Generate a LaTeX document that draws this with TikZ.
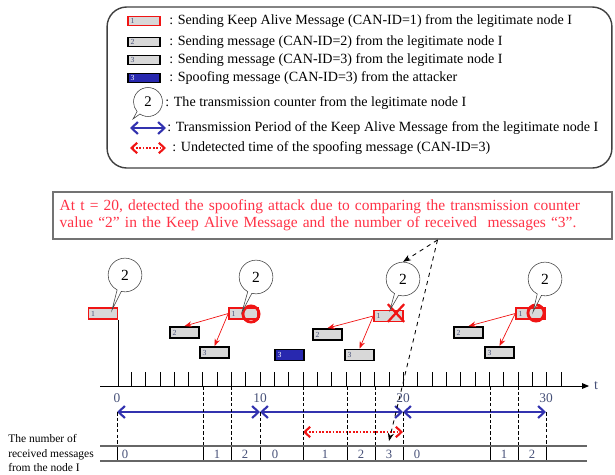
\documentclass[tikz,border=0pt]{standalone}
\usepackage{fontspec}
\setmainfont{Liberation Serif}
\usetikzlibrary{arrows.meta,calc,positioning,shapes.callouts,shapes.misc}

\definecolor{kaRed}{RGB}{240,20,20}
\definecolor{noteRed}{RGB}{255,50,70}
\definecolor{periodBlue}{RGB}{50,50,175}
\definecolor{spoofBlue}{RGB}{40,40,175}
\definecolor{msgGray}{RGB}{216,216,216}
\definecolor{digitInk}{RGB}{70,80,120}

\begin{document}
\begin{tikzpicture}[
    x=0.025cm, y=-0.025cm, >=Stealth,
    % Styles
    msgBox/.style={draw=black, line width=1.3pt, fill=msgGray, minimum width=20.6pt, minimum height=7.8pt, inner sep=0pt, text width=17pt, align=left, font=\fontsize{5.5}{5.5}\selectfont, text=digitInk},
    kaBox/.style={msgBox, draw=kaRed, line width=1.1pt},
    spoofBox/.style={msgBox, fill=spoofBlue, text=white},
    lgSize/.style={minimum width=22.8pt, minimum height=6.4pt, text width=19pt},
    cntBubble/.style={draw=black!75, fill=white, ellipse callout, minimum width=24pt, minimum height=24pt, inner sep=0pt, font=\fontsize{11}{11}\selectfont},
    hitRing/.style={draw=kaRed, line width=2pt, circle, minimum size=11.5pt, inner sep=0pt},
    missCross/.style={draw=kaRed, line width=1.6pt, cross out, minimum width=10pt, minimum height=11pt, inner sep=0pt},
    sendArrow/.style={->, draw=kaRed, line width=0.5pt},
    periodArrow/.style={{Straight Barb[length=4.5pt,width=8.5pt]}-{Straight Barb[length=4.5pt,width=8.5pt]}, draw=periodBlue, line width=1.5pt},
    missArrow/.style={{Straight Barb[length=4pt,width=7.5pt]}-{Straight Barb[length=4pt,width=7.5pt]}, draw=kaRed, line width=1.5pt, dash pattern=on 1.2pt off 1.2pt},
    recvLine/.style={draw=black, line width=0.5pt, dash pattern=on 2.5pt off 1.5pt},
    lgText/.style={anchor=west, inner sep=0pt, font=\fontsize{10}{12}\selectfont},
    numText/.style={font=\fontsize{9.5}{10}\selectfont, text=digitInk}
]
\useasboundingbox (0,0) rectangle (615,474);

% ================= LEGEND =================
\node[draw=black!75, line width=1pt, rounded corners=14pt, minimum width=359pt, minimum height=114.5pt] (legend) at (359.5,87.5) {};

\node[kaBox, lgSize, line width=0.8pt] (lgKa) at (144,21) {1};
\node[lgText] (lgKaTxt) at (169,21) {: Sending Keep Alive Message (CAN-ID=1) from the legitimate node I};
\node[msgBox, lgSize] (lgMsg2) at (144,42) {2};
\node[lgText] (lgMsg2Txt) at (169,42) {: Sending message (CAN-ID=2) from the legitimate node I};
\node[msgBox, lgSize] (lgMsg3) at (144,60) {3};
\node[lgText] (lgMsg3Txt) at (169,60) {: Sending message (CAN-ID=3) from the legitimate node I};
\node[spoofBox, lgSize] (lgSpoof) at (144,78) {3};
\node[lgText] (lgSpoofTxt) at (169,78) {: Spoofing message (CAN-ID=3) from the attacker};

\node[cntBubble, minimum width=20.6pt, minimum height=20.6pt, font=\fontsize{10.5}{10.5}\selectfont, callout absolute pointer={(133,119)}] (lgBub) at (148,102) {2};
\node[lgText] (lgBubTxt) at (165,103) {: The transmission counter from the legitimate node I};

\coordinate (lgPerA) at (130,128);
\coordinate (lgPerB) at (166,128);
\draw[periodArrow] (lgPerA) -- (lgPerB);
\node[lgText] (lgPerTxt) at (167,128) {: Transmission Period of the Keep Alive Message from the legitimate node I};

\coordinate (lgMissA) at (130,148);
\coordinate (lgMissB) at (166,148);
\draw[missArrow] (lgMissA) -- (lgMissB);
\node[lgText] (lgMissTxt) at (172,148) {: Undetected time of the spoofing message (CAN-ID=3)};

% ================= DETECTION NOTE =================
\node[draw=black!55, line width=1.4pt, minimum width=397.6pt, minimum height=33.4pt, text width=388pt, inner xsep=5pt, align=left, text=noteRed, font=\fontsize{11}{12}\selectfont] (alarm) at (332.5,215.5) {At t = 20, detected the spoofing attack due to comparing the transmission counter\\value “2” in the Keep Alive Message and the number of received \ messages “3”.};

% ================= MESSAGES =================
% t = 0
\node[kaBox] (ka1) at (103,313.5) {1};
% t = 10
\node[kaBox] (ka2) at (243.5,313.5) {1};
\node[msgBox] (msgA2) at (184.5,332.5) {2};
\node[msgBox] (msgA3) at (214.5,352.5) {3};
% attacker
\node[spoofBox] (spoof) at (289.5,355) {3};
% t = 20
\node[kaBox] (ka3) at (388.5,316) {1};
\node[msgBox] (msgB2) at (327.5,334.5) {2};
\node[msgBox] (msgB3) at (359.5,355) {3};
% t = 30
\node[kaBox] (ka4) at (530.5,313.5) {1};
\node[msgBox] (msgC2) at (468.5,332.5) {2};
\node[msgBox] (msgC3) at (499.5,352.5) {3};

\draw[sendArrow] (ka2.west) -- (msgA2.north);
\draw[sendArrow] (ka2.west) -- (msgA3.north);
\draw[sendArrow] (ka3.west) -- (msgB2.north);
\draw[sendArrow] (ka3.west) -- (msgB3.north);
\draw[sendArrow] (ka4.west) -- (msgC2.north);
\draw[sendArrow] (ka4.west) -- (msgC3.north);

\node[hitRing] (ring2) at (251,314) {};
\node[missCross] (cross3) at (396,313) {};
\node[hitRing] (ring4) at (536,313) {};

% counters
\node[cntBubble, callout absolute pointer={(112,310)}] (bub1) at (125,275) {2};
\node[cntBubble, callout absolute pointer={(242,312)}] (bub2) at (256,277) {2};
\node[cntBubble, callout absolute pointer={(390,310)}] (bub3) at (403,279) {2};
\node[cntBubble, callout absolute pointer={(533,312)}] (bub4) at (545,279) {2};

% ================= TIMELINE =================
\coordinate (tStart) at (100,386);
\node[font=\fontsize{10}{10}\selectfont, text=digitInk] (tLabel) at (596,386) {t};
\draw[-{Triangle[length=5pt,width=4pt]}, line width=0.7pt] (tStart) -- (tLabel.west);
\draw[line width=0.7pt] (ka1.south east) -- (ka1.south east |- tStart);
\foreach \k in {1,...,31}
    \draw[line width=0.7pt] (117+14.33*\k,372) -- (117+14.33*\k,386);
\foreach \t/\x in {0/117,10/260,20/403,30/546}
    \node[numText] (lbl\t) at (\x,398) {\t};

% periods
\coordinate (per0) at (117,412);
\coordinate (per10) at (260,412);
\coordinate (per20) at (403,412);
\coordinate (per30) at (546,412);
\draw[periodArrow] (per0) -- (per10);
\draw[periodArrow] (per10) -- (per20);
\draw[periodArrow] (per20) -- (per30);

\coordinate (miss0) at (303,432);
\coordinate (miss1) at (403,432);
\draw[missArrow] (miss0) -- (miss1);

% ================= RECEIVED COUNTER =================
\foreach \x in {203,231,303,347,375,490,518} {
    \draw[recvLine] (\x,386) -- (\x,446);
    \draw[line width=0.6pt] (\x,446) -- (\x,461);
}
\foreach \x in {117,260,403,546} {
    \draw[recvLine] (\x,412) -- (\x,446);
    \draw[line width=0.6pt] (\x,446) -- (\x,461);
}
\draw[draw=black!60, line width=0.8pt] (100,446) -- (587,446);
\draw[draw=black!60, line width=0.8pt] (100,461) -- (587,461);
\foreach \x/\n in {125/0,217/1,245/2,275/0,325/1,361/2,389/3,417/0,504/1,532/2}
    \node[numText, font=\fontsize{9}{9}\selectfont] at (\x,454) {\n};

\node[anchor=west, align=left, inner sep=0pt, font=\fontsize{8.2}{10}\selectfont] (rowLbl) at (8,453) {The number of\\received messages\\from the node I};

% ================= DETECTION POINTERS =================
\coordinate (alarmTip) at ($(alarm.south west)!0.687!(alarm.south east)$);
\coordinate (cntHit) at (389,441);
\draw[->, dashed, line width=0.6pt] (alarmTip) -- (bub3.north);
\draw[->, dashed, line width=0.6pt] (alarmTip) -- (cntHit);

\end{tikzpicture}
\end{document}
